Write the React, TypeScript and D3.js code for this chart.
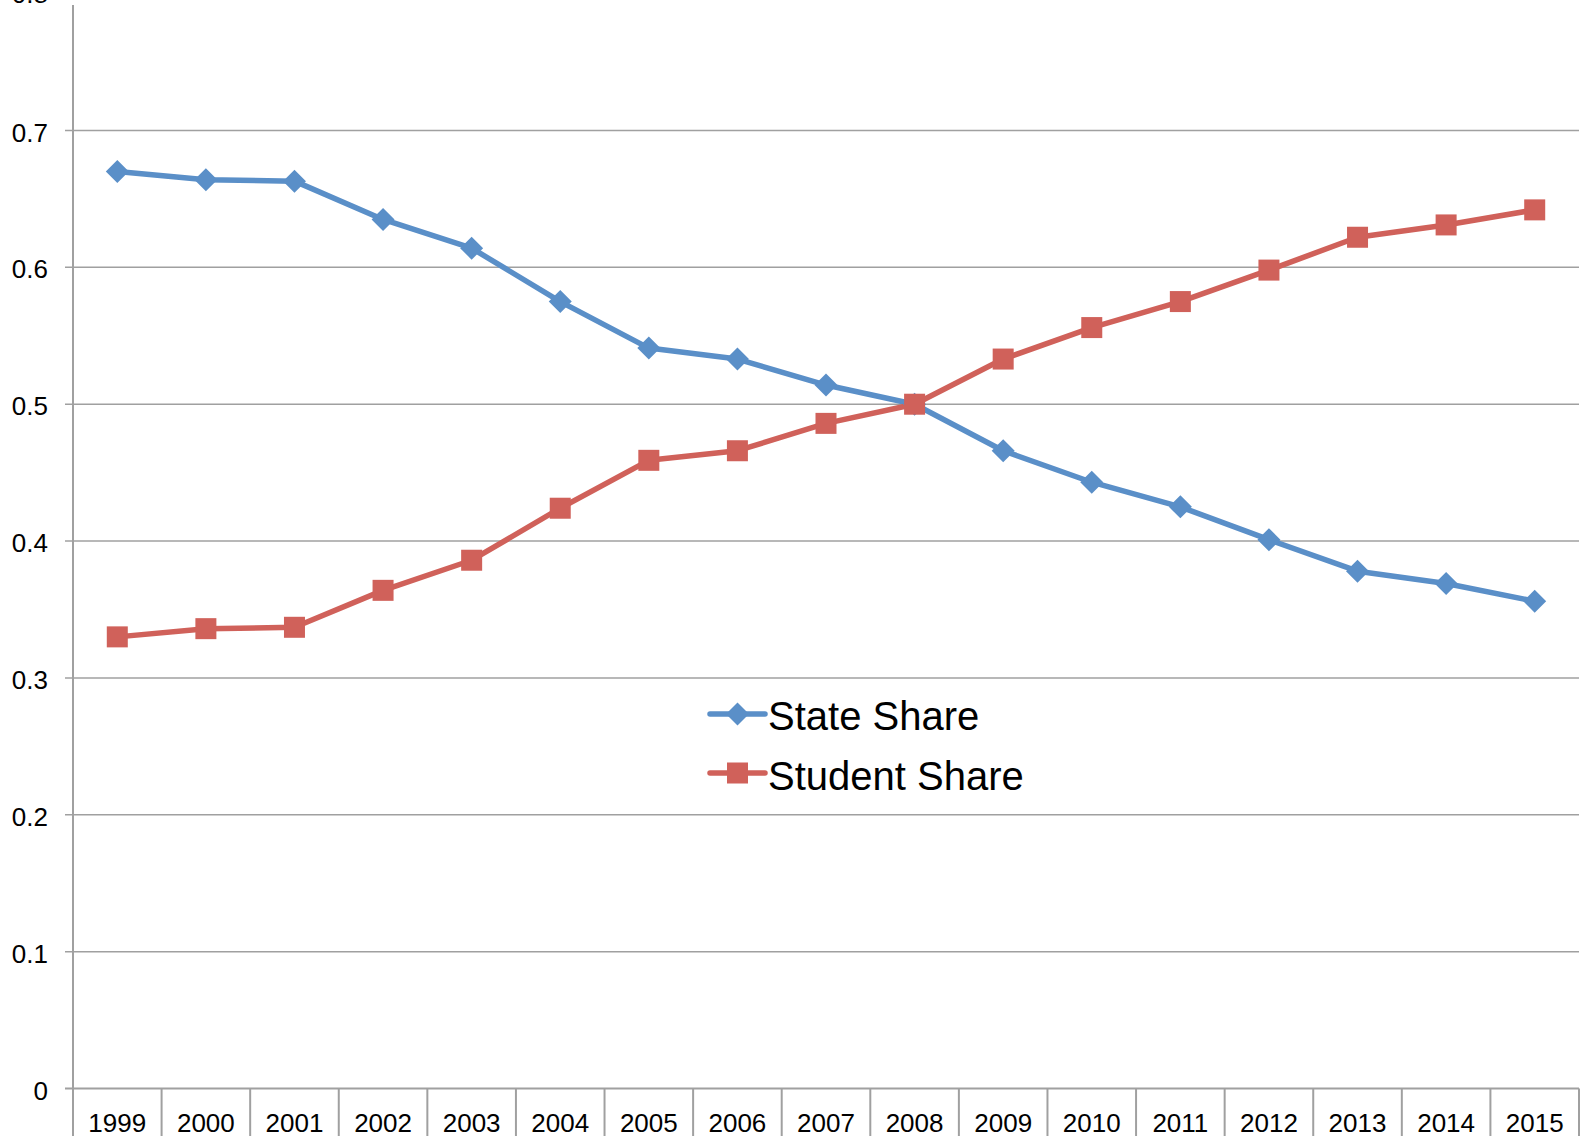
import React from "react";
import * as d3 from "d3";

const years = ["1999","2000","2001","2002","2003","2004","2005","2006","2007","2008","2009","2010","2011","2012","2013","2014","2015"];
const stateShare = [0.670,0.664,0.663,0.635,0.614,0.575,0.541,0.533,0.514,0.500,0.466,0.443,0.425,0.401,0.378,0.369,0.356];
const studentShare = [0.330,0.336,0.337,0.364,0.386,0.424,0.459,0.466,0.486,0.500,0.533,0.556,0.575,0.598,0.622,0.631,0.642];
const yTicks = [0,0.1,0.2,0.3,0.4,0.5,0.6,0.7,0.8];
const seriesNames = ["State Share","Student Share"];

const W = 1583, H = 1136;
const left = 73, right = 1579;
const BLUE = "#5A8FC8";
const RED = "#D0615A";
const GRID = "#A0A0A0";

export default function App() {
  const x = d3.scaleBand<string>().domain(years).range([left, right]);
  const y = d3.scaleLinear().domain([0, 0.7]).range([1088.5, 130.5]);
  const cx = (i: number) => (x(years[i]) as number) + x.bandwidth() / 2;
  const line = d3.line<number>().x((_, i) => cx(i)).y((d) => y(d));
  const font = "Arial, 'Liberation Sans', sans-serif";
  const diamond = (px: number, py: number, r: number) =>
    `M${px},${py - r}L${px + r},${py}L${px},${py + r}L${px - r},${py}Z`;
  const sq = 21;
  const dr = 11.5;
  const lw = 5.5;

  return (
    <svg width={W} height={H} style={{ position: "absolute", left: 0, top: 0, background: "#fff" }} fontFamily={font}>
      {/* grid lines */}
      {yTicks.filter((t) => t > 0).map((t) => (
        <g key={t}>
          {t <= 0.7 && <line x1={left - 8} x2={right} y1={y(t)} y2={y(t)} stroke={GRID} strokeWidth={1.5} />}
          <text x={48} y={y(t) + (t > 0.75 ? 0 : 2)} fontSize={26} textAnchor="end" dominantBaseline="central" fill="#000">{t.toFixed(1)}</text>
        </g>
      ))}
      {/* zero axis */}
      <line x1={left - 8} x2={right} y1={y(0)} y2={y(0)} stroke={GRID} strokeWidth={2} />
      <text x={48} y={y(0) + 2} fontSize={26} textAnchor="end" dominantBaseline="central" fill="#000">0</text>
      {/* y axis */}
      <line x1={left} x2={left} y1={5} y2={H} stroke={GRID} strokeWidth={2} />
      {/* category dividers */}
      {years.map((yr) => (
        <line key={yr} x1={(x(yr) as number) + x.bandwidth()} x2={(x(yr) as number) + x.bandwidth()} y1={y(0)} y2={H} stroke={GRID} strokeWidth={2} />
      ))}
      {years.map((yr, i) => (
        <text key={yr} x={cx(i)} y={1131.5} fontSize={26} textAnchor="middle" fill="#000">{yr}</text>
      ))}
      {/* series lines */}
      <path d={line(stateShare) || ""} fill="none" stroke={BLUE} strokeWidth={lw} strokeLinejoin="round" />
      <path d={line(studentShare) || ""} fill="none" stroke={RED} strokeWidth={lw} strokeLinejoin="round" />
      {stateShare.map((v, i) => (
        <path key={"s" + i} d={diamond(cx(i), y(v), dr)} fill={BLUE} />
      ))}
      {studentShare.map((v, i) => (
        <rect key={"t" + i} x={cx(i) - sq / 2} y={y(v) - sq / 2} width={sq} height={sq} fill={RED} />
      ))}
      {/* legend */}
      <g>
        <line x1={710} x2={765} y1={714} y2={714} stroke={BLUE} strokeWidth={lw} strokeLinecap="round" />
        <path d={diamond(737.5, 714, dr)} fill={BLUE} />
        <text x={768} y={730} fontSize={40} fill="#000">{seriesNames[0]}</text>
        <line x1={710} x2={765} y1={773} y2={773} stroke={RED} strokeWidth={lw} strokeLinecap="round" />
        <rect x={737.5 - sq / 2} y={773 - sq / 2} width={sq} height={sq} fill={RED} />
        <text x={768} y={790} fontSize={40} fill="#000">{seriesNames[1]}</text>
      </g>
    </svg>
  );
}
